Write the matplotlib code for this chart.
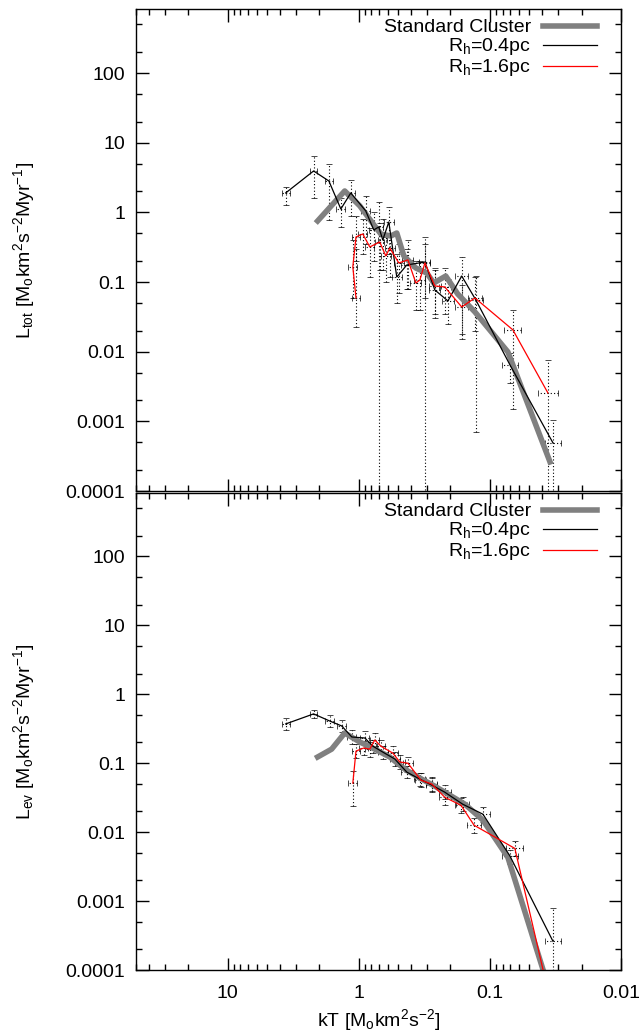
import numpy as np
import matplotlib.pyplot as plt
from matplotlib.ticker import LogLocator, FixedLocator, FuncFormatter, NullFormatter

plt.rcParams['font.family'] = ['Liberation Sans', 'DejaVu Sans']
plt.rcParams['mathtext.fontset'] = 'custom'
plt.rcParams['mathtext.rm'] = 'Liberation Sans'
plt.rcParams['mathtext.it'] = 'Liberation Sans'
plt.rcParams['mathtext.default'] = 'regular'

# --- top panel: L_tot ---
top_std_x = [2.06, 1.28, 0.982, 0.796, 0.679, 0.570, 0.513, 0.453, 0.367, 0.303, 0.268, 0.217, 0.176, 0.130, 0.0729, 0.0348]
top_std_y = [0.753, 2.03, 1.24, 0.728, 0.490, 0.458, 0.506, 0.237, 0.159, 0.135, 0.097, 0.122, 0.0675, 0.0372, 0.00993, 0.000262]

top_04_x = [3.61, 2.21, 1.69, 1.37, 1.15, 0.885, 0.768, 0.704, 0.656, 0.590, 0.513, 0.430, 0.313, 0.263, 0.209, 0.164, 0.128, 0.0703, 0.033]
top_04_y = [1.90, 3.93, 2.82, 1.12, 1.90, 1.05, 0.559, 0.618, 0.402, 0.728, 0.118, 0.176, 0.194, 0.077, 0.0536, 0.122, 0.0554, 0.00647, 0.00049]
top_04_lo = [1.28, 1.61, 0.78, 0.62, 0.9, 0.35, 0.2, 1e-6, 0.15, 0.25, 0.05, 0.08, 1e-6, 0.03, 0.025, 0.018, 0.0007, 0.0035, 1e-6]
top_04_hi = [2.31, 6.44, 4.94, 1.61, 2.9, 1.7, 1.0, 1.43, 0.8, 1.2, 0.25, 0.3, 0.44, 0.15, 0.11, 0.229, 0.122, 0.0095, 0.00105]
top_04_dx = [0.07, 0.07, 0.08, 0.08, 0.08, 0.08, 0.08, 0.08, 0.08, 0.09, 0.09, 0.1, 0.1, 0.1, 0.11, 0.12, 0.13, 0.15, 0.16]

top_16_x = [1.05, 1.11, 1.05, 0.932, 0.824, 0.692, 0.622, 0.580, 0.495, 0.422, 0.367, 0.342, 0.313, 0.263, 0.221, 0.164, 0.130, 0.0668, 0.0361]
top_16_y = [0.0591, 0.165, 0.444, 0.490, 0.319, 0.376, 0.237, 0.308, 0.188, 0.208, 0.097, 0.107, 0.188, 0.0879, 0.0851, 0.0439, 0.0591, 0.0206, 0.00256]
top_16_lo = [0.023, 0.06, 0.2, 0.25, 0.12, 0.15, 0.1, 0.12, 0.07, 0.08, 0.04, 0.04, 0.06, 0.035, 0.035, 0.015, 0.02, 0.0015, 1e-6]
top_16_hi = [0.3, 0.4, 0.9, 0.8, 0.6, 0.7, 0.45, 0.5, 0.35, 0.4, 0.2, 0.2, 0.35, 0.16, 0.16, 0.09, 0.12, 0.04, 0.0076]
top_16_dx = [0.08, 0.08, 0.08, 0.08, 0.08, 0.08, 0.09, 0.09, 0.09, 0.1, 0.1, 0.1, 0.1, 0.11, 0.11, 0.12, 0.13, 0.16, 0.2]

# --- bottom panel: L_ev ---
bot_std_x = [2.06, 1.61, 1.28, 0.982, 0.755, 0.580, 0.446, 0.342, 0.263, 0.202, 0.155, 0.113, 0.0729, 0.0348]
bot_std_y = [0.123, 0.160, 0.274, 0.203, 0.160, 0.123, 0.082, 0.0607, 0.0464, 0.0343, 0.0254, 0.0149, 0.0043, 0.000048]

bot_04_x = [3.61, 2.21, 1.67, 1.35, 1.13, 0.90, 0.782, 0.656, 0.531, 0.430, 0.342, 0.277, 0.221, 0.161, 0.113, 0.0703, 0.033]
bot_04_y = [0.371, 0.519, 0.410, 0.347, 0.240, 0.232, 0.177, 0.145, 0.115, 0.0742, 0.0587, 0.048, 0.038, 0.0254, 0.0182, 0.0045, 0.00026]
bot_04_lo = [0.30, 0.45, 0.34, 0.28, 0.19, 0.19, 0.14, 0.115, 0.09, 0.06, 0.047, 0.038, 0.030, 0.020, 0.014, 0.0034, 1e-6]
bot_04_hi = [0.45, 0.60, 0.50, 0.43, 0.30, 0.29, 0.22, 0.18, 0.145, 0.092, 0.073, 0.060, 0.048, 0.032, 0.023, 0.0055, 0.0008]
bot_04_dx = [0.07, 0.07, 0.08, 0.08, 0.08, 0.08, 0.08, 0.09, 0.09, 0.1, 0.1, 0.1, 0.11, 0.12, 0.13, 0.15, 0.16]

bot_16_x = [1.11, 1.05, 0.916, 0.824, 0.755, 0.679, 0.550, 0.486, 0.422, 0.336, 0.277, 0.221, 0.166, 0.132, 0.0645, 0.0361]
bot_16_y = [0.0513, 0.150, 0.166, 0.160, 0.217, 0.177, 0.140, 0.104, 0.100, 0.0568, 0.0497, 0.0321, 0.0245, 0.0126, 0.0058, 0.00005]
bot_16_lo = [0.024, 0.12, 0.13, 0.125, 0.17, 0.14, 0.11, 0.082, 0.08, 0.045, 0.039, 0.025, 0.019, 0.0098, 0.0045, 0.00003]
bot_16_hi = [0.077, 0.19, 0.21, 0.2, 0.27, 0.22, 0.18, 0.13, 0.125, 0.072, 0.063, 0.041, 0.031, 0.016, 0.0075, 0.00008]
bot_16_dx = [0.08, 0.08, 0.08, 0.08, 0.08, 0.08, 0.09, 0.09, 0.09, 0.1, 0.1, 0.11, 0.12, 0.13, 0.16, 0.2]

labels = ['Standard Cluster', r'R$_{h}$=0.4pc', r'R$_{h}$=1.6pc']
y_ticks = [1e-4, 1e-3, 1e-2, 1e-1, 1, 10, 100]
x_ticks = [10, 1, 0.1, 0.01]


def errbars(ax, x, y, lo, hi, dx):
    x = np.array(x); y = np.array(y)
    dx = np.array(dx)
    yerr = [y - np.array(lo), np.array(hi) - y]
    xerr = [x - x / (1 + dx), x * (1 + dx) - x]
    eb = ax.errorbar(x, y, xerr=xerr, yerr=yerr, fmt='none', ecolor='black',
                     elinewidth=0.8, capsize=2, capthick=0.5, zorder=1)
    for lc in eb[2]:
        lc.set_linestyle((0, (1, 2)))


def draw_panel(ax, std, s04, s16, ylabel):
    errbars(ax, *s04[:2], *s04[2:])
    errbars(ax, *s16[:2], *s16[2:])
    ax.plot(std[0], std[1], color='#808080', lw=4, label=labels[0], zorder=2)
    ax.plot(s04[0], s04[1], color='black', lw=0.9, label=labels[1], zorder=3)
    ax.plot(s16[0], s16[1], color='red', lw=0.9, label=labels[2], zorder=4)

    ax.set_xscale('log')
    ax.set_yscale('log')
    ax.set_xlim(50, 0.01)
    ax.set_ylim(1e-4, 830)
    ax.yaxis.set_major_locator(FixedLocator(y_ticks))
    ax.yaxis.set_minor_locator(LogLocator(base=10, subs=(2, 5), numticks=20))
    ax.yaxis.set_minor_formatter(NullFormatter())
    ax.yaxis.set_major_formatter(FuncFormatter(lambda v, p: '%g' % v))
    ax.xaxis.set_major_locator(FixedLocator(x_ticks))
    ax.xaxis.set_minor_locator(LogLocator(base=10, subs=np.arange(2, 10), numticks=20))
    ax.xaxis.set_minor_formatter(NullFormatter())
    ax.xaxis.set_major_formatter(FuncFormatter(lambda v, p: '%g' % v))
    ax.tick_params(which='both', direction='in', top=True, right=True, labelsize=14, width=1)
    ax.tick_params(which='major', length=9, pad=8)
    ax.tick_params(axis='x', which='major', pad=11)
    ax.tick_params(which='minor', length=4.5)
    for sp in ax.spines.values():
        sp.set_linewidth(1)

    ax.set_ylabel(ylabel, fontsize=14)
    ax.yaxis.set_label_coords(-0.205, 0.5)
    ax.legend(loc='upper right', bbox_to_anchor=(0.979, 1.008), frameon=False,
              markerfirst=False, fontsize=14, handlelength=2.8, handletextpad=0.6,
              labelspacing=0.0, borderaxespad=0.3)


fig = plt.figure(figsize=(6.43, 10.36), dpi=100)
ax1 = fig.add_axes([0.2115, 0.526, 0.7543, 0.4653])
ax2 = fig.add_axes([0.2115, 0.0637, 0.7543, 0.4604], sharex=ax1)

draw_panel(ax1, (top_std_x, top_std_y),
           (top_04_x, top_04_y, top_04_lo, top_04_hi, top_04_dx),
           (top_16_x, top_16_y, top_16_lo, top_16_hi, top_16_dx),
           r'L$_{tot}$ [M$_o$km$^2$s$^{-2}$Myr$^{-1}$]')
draw_panel(ax2, (bot_std_x, bot_std_y),
           (bot_04_x, bot_04_y, bot_04_lo, bot_04_hi, bot_04_dx),
           (bot_16_x, bot_16_y, bot_16_lo, bot_16_hi, bot_16_dx),
           r'L$_{ev}$ [M$_o$km$^2$s$^{-2}$Myr$^{-1}$]')

ax1.tick_params(labelbottom=False)
ax2.set_xlabel(r'kT [M$_o$km$^2$s$^{-2}$]', fontsize=14)
ax2.xaxis.set_label_coords(0.5, -0.078)

fig.savefig('out.png', dpi=100)
